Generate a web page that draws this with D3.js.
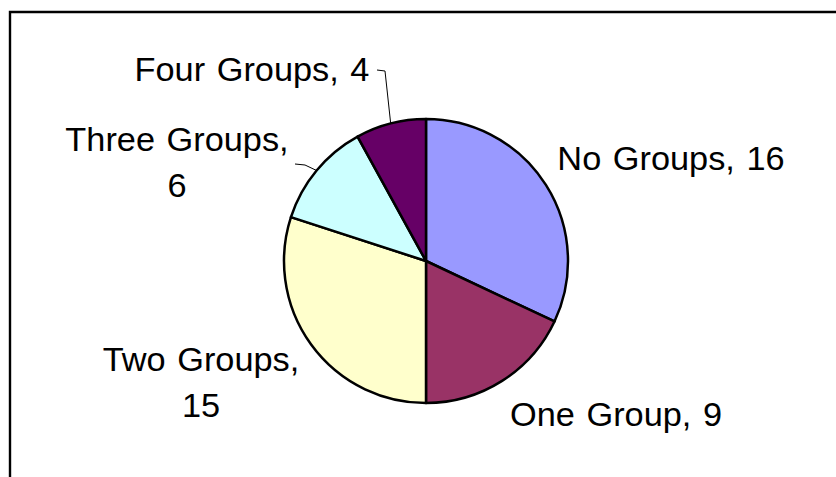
<!DOCTYPE html>
<html>
<head>
<meta charset="utf-8">
<script src="https://cdn.jsdelivr.net/npm/d3@7"></script>
<style>
  body { margin: 0; background: #fff; }
</style>
</head>
<body>
<div id="chart"></div>
<script>
const categories = ['No Groups', 'One Group', 'Two Groups', 'Three Groups', 'Four Groups'];
const values = [16, 9, 15, 6, 4];
const colors = ['#9999ff', '#993366', '#ffffcc', '#ccffff', '#660066'];

const width = 836;
const height = 477;
const cx = 426;
const cy = 261;
const radius = 142;
const fontSize = 33;
const stretchX = 1.04;

// where each label sits (center x, first baseline y) and whether it wraps
const labelLayout = [
  { x: 671, y: 170, wrap: false },
  { x: 616, y: 426, wrap: false },
  { x: 201, y: 371, wrap: true },
  { x: 177, y: 151, wrap: true },
  { x: 252, y: 81, wrap: false },
];
const lineGap = 46;

// leader lines: elbow and end point, start comes from the slice
const leaders = [
  null,
  null,
  null,
  { elbow: [305, 165], end: [295, 164] },
  { elbow: [385, 71], end: [377, 70] },
];

const svg = d3
  .select('#chart')
  .append('svg')
  .attr('width', width)
  .attr('height', height);

svg
  .append('rect')
  .attr('width', width)
  .attr('height', height)
  .attr('fill', '#fff');

// frame (cropped on right and bottom)
svg
  .append('path')
  .attr('d', `M10,${height + 5} V12 H${width + 5}`)
  .attr('fill', 'none')
  .attr('stroke', '#000')
  .attr('stroke-width', 2.4);

const pie = d3.pie().sort(null).value(d => d);
const arcs = pie(values);

const arc = d3.arc().innerRadius(0).outerRadius(radius);
const edgeArc = d3.arc().innerRadius(radius).outerRadius(radius);

const graph = svg.append('g').attr('transform', `translate(${cx}, ${cy})`);

graph
  .selectAll('path.slice')
  .data(arcs)
  .enter()
  .append('path')
  .attr('class', 'slice')
  .attr('d', arc)
  .attr('fill', (d, i) => colors[i])
  .attr('stroke', '#000')
  .attr('stroke-width', 2.5)
  .attr('stroke-linejoin', 'round');
// <-- slices end -->

arcs.forEach((d, i) => {
  const l = leaders[i];
  if (!l) return;
  const [sx, sy] = edgeArc.centroid(d);
  const pts = [[cx + sx, cy + sy], l.elbow, l.end];
  svg
    .append('path')
    .attr('d', d3.line()(pts))
    .attr('fill', 'none')
    .attr('stroke', '#000')
    .attr('stroke-width', 1);
});
// <-- leaders end -->

arcs.forEach((d, i) => {
  const pos = labelLayout[i];
  const lines = pos.wrap
    ? [`${categories[i]},`, `${values[i]}`]
    : [`${categories[i]}, ${values[i]}`];
  lines.forEach((t, k) => {
    svg
      .append('text')
      .attr('transform', `translate(${pos.x}, ${pos.y + k * lineGap}) scale(${stretchX}, 1)`)
      .attr('text-anchor', 'middle')
      .attr('font-family', '"Liberation Sans", Arial, sans-serif')
      .attr('font-size', fontSize)
      .attr('word-spacing', 2)
      .attr('fill', '#000')
      .text(t);
  });
});
// <-- labels end -->
</script>
</body>
</html>
